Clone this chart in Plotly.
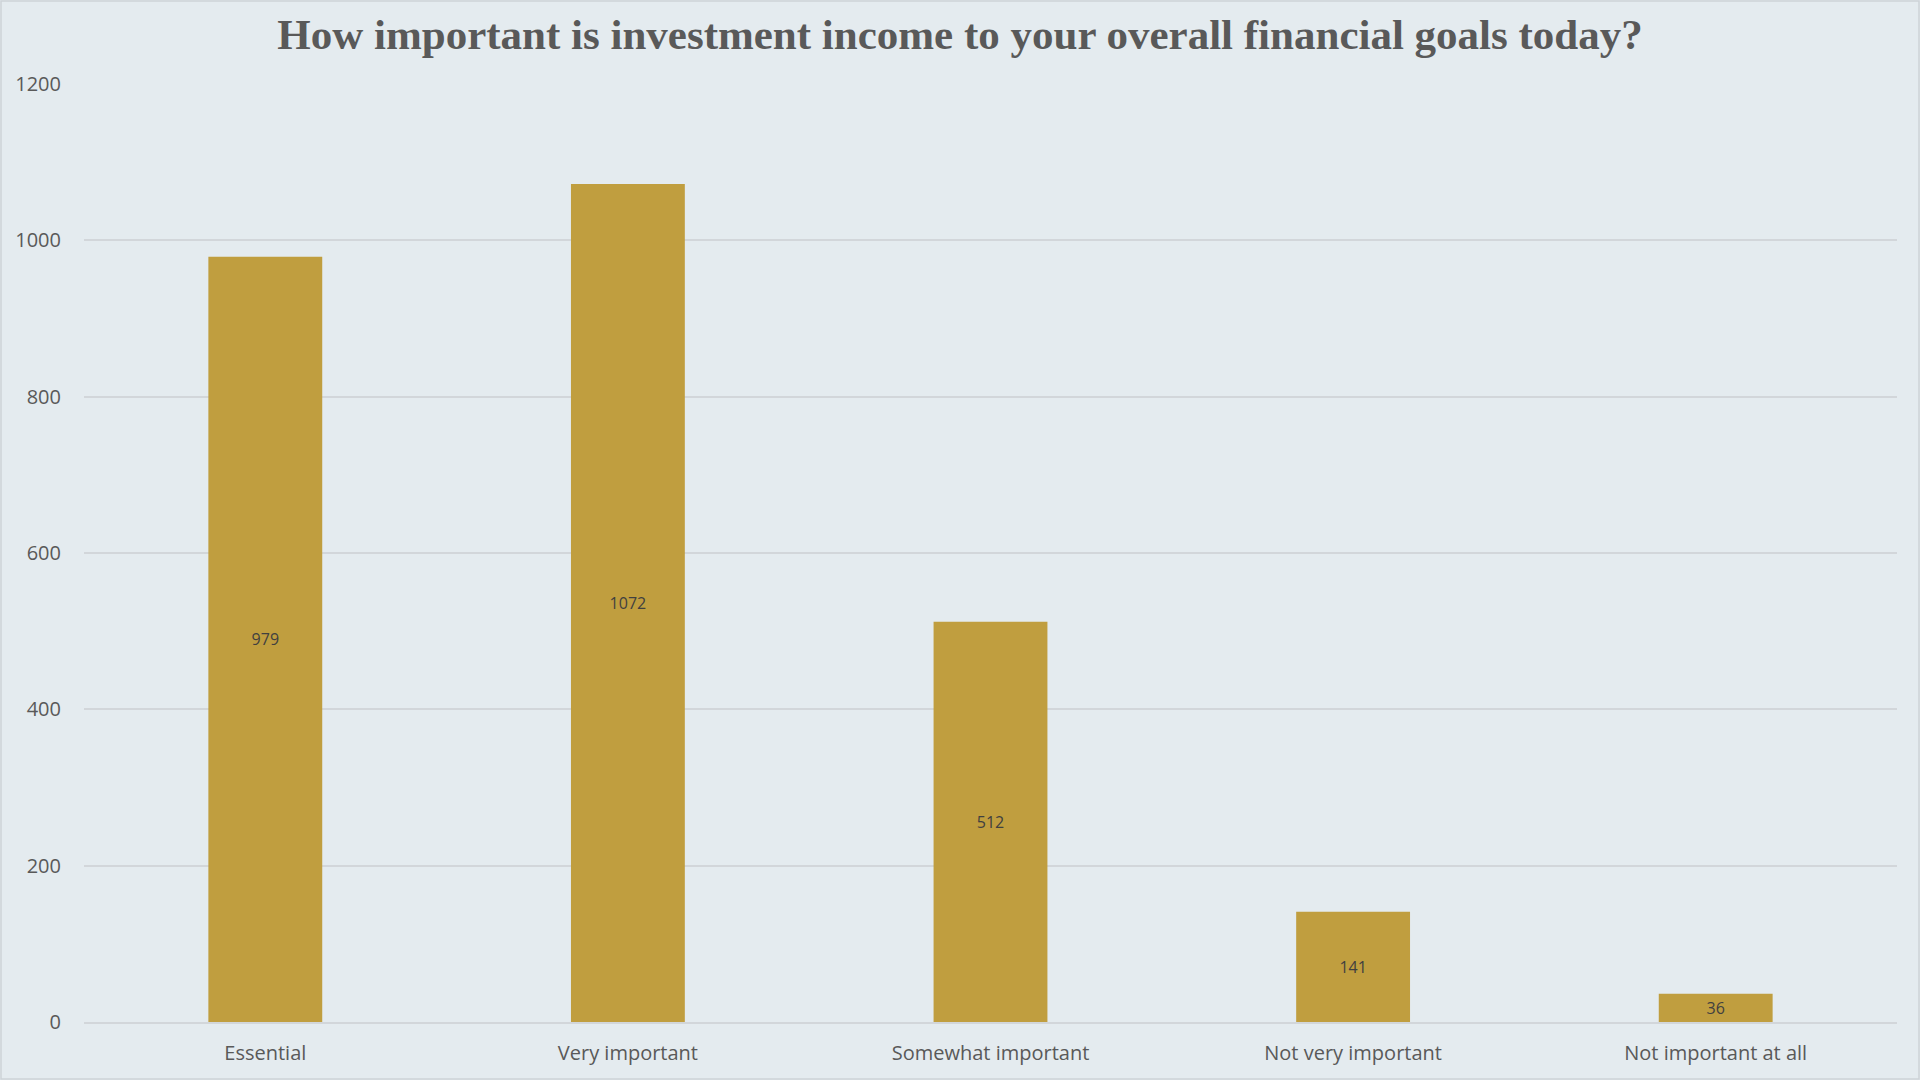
import plotly.graph_objects as go

categories = ["Essential", "Very important", "Somewhat important", "Not very important", "Not important at all"]
values = [979, 1072, 512, 141, 36]
y_ticks = [0, 200, 400, 600, 800, 1000, 1200]

title_text = "How important is investment income to your overall financial goals today?"

bg = "#E4EBEF"
bar_color = "#C09E3F"
grid_color = "#D2D6DA"

fig = go.Figure(
    go.Bar(
        x=categories,
        y=values,
        marker=dict(color=bar_color, line=dict(width=0)),
        text=[str(v) for v in values],
        textposition="inside",
        insidetextanchor="middle",
        textangle=0,
        constraintext="none",
        textfont=dict(family="Open Sans", size=16, color="#404040"),
        hoverinfo="x+y",
    )
)

fig.update_layout(
    width=1920,
    height=1080,
    paper_bgcolor=bg,
    plot_bgcolor=bg,
    margin=dict(l=84, r=23, t=84, b=58),
    bargap=0.686,
    showlegend=False,
    title=dict(
        text="<b>" + title_text + "</b>",
        x=0.5,
        xanchor="center",
        y=1 - 34 / 1080,
        yanchor="middle",
        font=dict(family="Liberation Serif", size=43, color="#595959"),
    ),
    xaxis=dict(
        showgrid=False,
        showline=True,
        linecolor=grid_color,
        linewidth=1.5,
        ticks="",
        tickfont=dict(family="Open Sans", size=20, color="#595959"),
        ticklabelstandoff=12,
    ),
    yaxis=dict(
        range=[0, 1200],
        tickvals=y_ticks,
        showgrid=True,
        gridcolor=grid_color,
        gridwidth=1.5,
        zeroline=False,
        showline=False,
        ticks="",
        tickfont=dict(family="Open Sans", size=20, color="#595959"),
        ticklabelstandoff=22,
    ),
    shapes=[
        dict(
            type="rect", xref="paper", yref="paper",
            x0=-83 / 1813, x1=1 + 22 / 1813, y0=-57 / 938, y1=1 + 83 / 938,
            line=dict(color="#CDD3D8", width=1.5), fillcolor="rgba(0,0,0,0)", layer="below",
        )
    ],
)

fig.write_html(
    "out.html",
    config={"displayModeBar": False},
    post_script="document.body.style.margin='0';document.body.style.overflow='hidden';",
)
